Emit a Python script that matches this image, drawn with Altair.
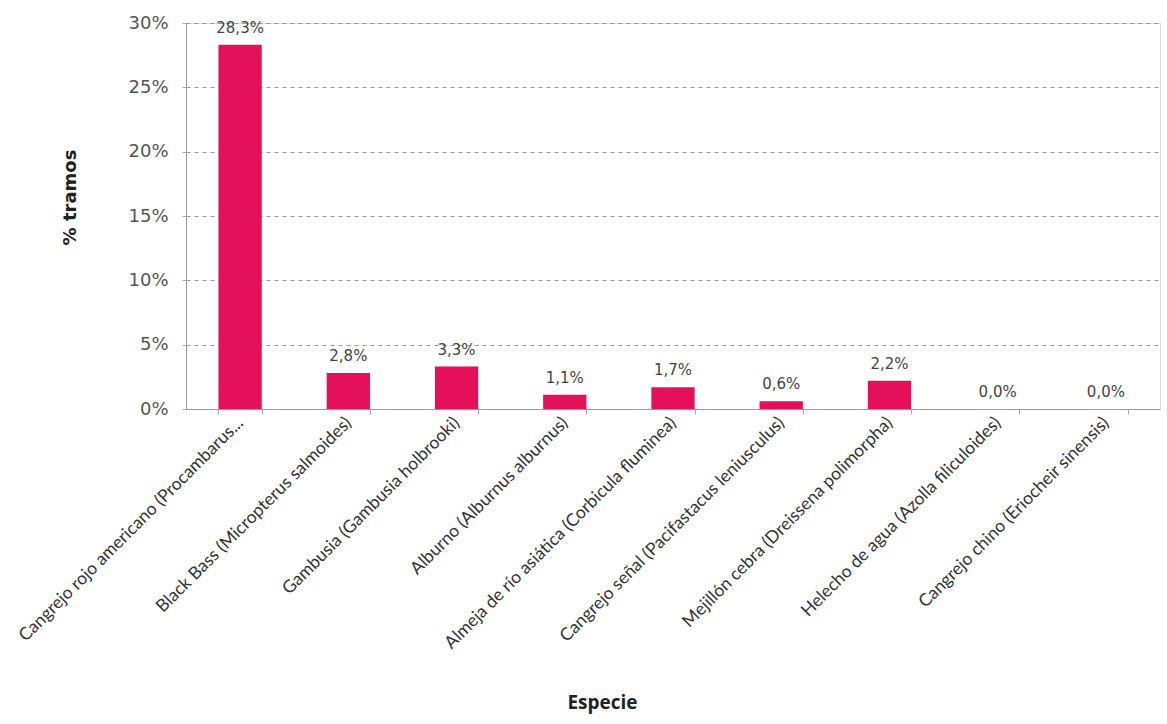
import altair as alt
import pandas as pd

species = [
    "Cangrejo rojo americano (Procambarus...",
    "Black Bass (Micropterus salmoides)",
    "Gambusia (Gambusia holbrooki)",
    "Alburno (Alburnus alburnus)",
    "Almeja de río asiática (Corbicula fluminea)",
    "Cangrejo señal (Pacifastacus leniusculus)",
    "Mejillón cebra (Dreissena polimorpha)",
    "Helecho de agua (Azolla filiculoides)",
    "Cangrejo chino (Eriocheir sinensis)",
]
values = [0.283, 0.028, 0.033, 0.011, 0.017, 0.006, 0.022, 0.0, 0.0]
labels = ["28,3%", "2,8%", "3,3%", "1,1%", "1,7%", "0,6%", "2,2%", "0,0%", "0,0%"]

df = pd.DataFrame({"Especie": species, "valor": values, "etiqueta": labels})

x = alt.X(
    "Especie:N",
    sort=species,
    scale=alt.Scale(paddingInner=0.6, paddingOuter=0.3),
    axis=alt.Axis(
        title="Especie",
        titleFont="Open Sans",
        titleFontSize=19,
        titleFontWeight="bold",
        titleColor="#222",
        titleX=416,
        titleY=293,
        titleAlign="center",
        titleBaseline="middle",
        labelAngle=-45,
        labelAlign="right",
        labelBaseline="middle",
        labelFont="Lato",
        labelFontSize=17.5,
        labelColor="#333",
        labelLimit=500,
        labelPadding=6,
        tickBand="extent",
        tickSize=5,
        tickColor="#aaa",
        domainColor="#999",
        grid=False,
    ),
)

y = alt.Y(
    "valor:Q",
    scale=alt.Scale(domain=[0, 0.3]),
    axis=alt.Axis(
        title="% tramos",
        titleFont="DejaVu Sans",
        titleFontSize=18,
        titleFontWeight="bold",
        titleColor="#222",
        titleX=-116,
        titleY=174,
        titleAlign="center",
        titleBaseline="middle",
        format=".0%",
        values=[0, 0.05, 0.1, 0.15, 0.2, 0.25, 0.3],
        labelFont="DejaVu Sans",
        labelFontSize=18,
        labelColor="#555",
        labelPadding=14,
        tickSize=4,
        tickColor="#aaa",
        domainColor="#999",
        grid=True,
        gridDash=[4, 4],
        gridColor="#999",
        gridWidth=1,
    ),
)

bars = alt.Chart(df).mark_bar(color="#E5105A").encode(x=x, y=y)

text = alt.Chart(df).mark_text(
    dy=-17, baseline="middle", font="DejaVu Sans", fontSize=15, color="#444"
).encode(x=alt.X("Especie:N", sort=species), y="valor:Q", text="etiqueta:N")

chart = (
    alt.layer(bars, text)
    .properties(
        width=974,
        height=386,
        autosize=alt.AutoSizeParams(type="none"),
        padding={"left": 186, "top": 23, "right": 7, "bottom": 315},
    )
    .configure_view(stroke=None)
    .configure(background="white")
)

chart.save("out.html", embed_options={"renderer": "svg", "actions": False})
